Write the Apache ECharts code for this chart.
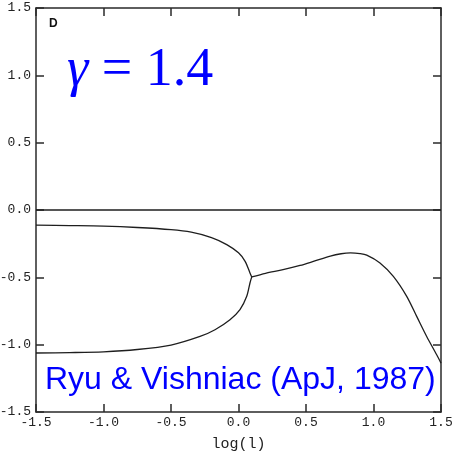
<!DOCTYPE html>
<html>
<head>
<meta charset="utf-8">
<script src="https://cdn.jsdelivr.net/npm/echarts@6/dist/echarts.min.js"></script>
<style>
  html, body { margin: 0; padding: 0; background: #fff; }
  #chart { width: 452px; height: 452px; }
</style>
</head>
<body>
<div id="chart"></div>
<script>
// Axis ticks (both axes share the same range)
const xTicks = [-1.5, -1.0, -0.5, 0.0, 0.5, 1.0, 1.5];
const yTicks = [-1.5, -1.0, -0.5, 0.0, 0.5, 1.0, 1.5];

// Neutral line
const zeroX = [-1.5, 1.5];
const zeroY = [0, 0];

// Upper branch (left of the junction)
const upperX = [-1.5, -1.25, -1.0, -0.75, -0.5, -0.35, -0.2, -0.087, 0.0, 0.049, 0.085, 0.098];
const upperY = [-0.113, -0.116, -0.12, -0.13, -0.146, -0.165, -0.205, -0.257, -0.318, -0.381, -0.467, -0.497];

// Lower branch (left of the junction)
const lowerX = [-1.5, -1.25, -1.0, -0.75, -0.5, -0.285, -0.174, -0.063, 0.011, 0.061, 0.085, 0.098];
const lowerY = [-1.062, -1.059, -1.053, -1.036, -1.003, -0.939, -0.889, -0.815, -0.74, -0.641, -0.542, -0.497];

// Single branch (right of the junction)
const rightX = [0.098, 0.2, 0.33, 0.456, 0.56, 0.68, 0.76, 0.83, 0.9, 0.95, 1.048, 1.147, 1.246, 1.32, 1.394, 1.468, 1.5];
const rightY = [-0.497, -0.47, -0.443, -0.412, -0.38, -0.342, -0.325, -0.319, -0.324, -0.335, -0.393, -0.493, -0.641, -0.79, -0.939, -1.075, -1.137];

const pairs = (xs, ys) => xs.map((x, i) => [x, ys[i]]);
const fmt = v => v.toFixed(1);

const monoFont = '"Liberation Mono", "DejaVu Sans Mono", monospace';
const axisColor = '#2a2a2a';

function axisCommon(ticks) {
  return {
    type: 'value',
    min: ticks[0],
    max: ticks[ticks.length - 1],
    interval: 0.5,
    splitLine: { show: false },
    axisLine: { show: true, onZero: false, lineStyle: { color: axisColor, width: 1.5 } },
    axisTick: { show: true, inside: true, length: 8, lineStyle: { color: axisColor, width: 1.5 } }
  };
}

const chart = echarts.init(document.getElementById('chart'), null, { renderer: 'canvas' });

const lineStyle = { color: '#1e1e1e', width: 1.3 };
function branch(data) {
  return {
    type: 'line',
    data: data,
    showSymbol: false,
    smooth: 0.3,
    lineStyle: lineStyle,
    silent: true,
    animation: false
  };
}

chart.setOption({
  animation: false,
  backgroundColor: '#ffffff',
  grid: { left: 36, right: 11, top: 8, bottom: 40, containLabel: false, outerBoundsMode: 'none' },
  xAxis: [
    Object.assign(axisCommon(xTicks), {
      position: 'bottom',
      axisLabel: { show: true, formatter: fmt, margin: 4, color: '#222', fontFamily: monoFont, fontSize: 13,
                   showMinLabel: true, showMaxLabel: true },
      name: 'log(l)',
      nameLocation: 'middle',
      nameGap: 25,
      nameTextStyle: { color: '#222', fontFamily: monoFont, fontSize: 15 }
    }),
    Object.assign(axisCommon(xTicks), {
      position: 'top',
      axisLabel: { show: false }
    })
  ],
  yAxis: [
    Object.assign(axisCommon(yTicks), {
      position: 'left',
      axisLabel: { show: true, formatter: fmt, margin: 5, color: '#222', fontFamily: monoFont, fontSize: 13,
                   showMinLabel: true, showMaxLabel: true }
    }),
    Object.assign(axisCommon(yTicks), {
      position: 'right',
      axisLabel: { show: false }
    })
  ],
  series: [
    Object.assign(branch(pairs(zeroX, zeroY)), { smooth: false }),
    branch(pairs(upperX, upperY)),
    branch(pairs(lowerX, lowerY)),
    branch(pairs(rightX, rightY))
  ],
  graphic: [
    {
      type: 'text',
      left: 49, top: 18,
      style: { text: 'D', font: 'bold 12px "Liberation Sans", Arial, sans-serif', fill: '#111' }
    },
    {
      type: 'text',
      left: 67, top: 44,
      style: {
        text: '{g|γ} {e|= 1.4}',
        rich: {
          g: { font: 'italic 54px "Liberation Serif", "Times New Roman", serif', fill: '#0000ff' },
          e: { font: '54px "Liberation Serif", "Times New Roman", serif', fill: '#0000ff' }
        },
        font: '54px "Liberation Serif", serif',
        fill: '#0000ff'
      }
    },
    {
      type: 'text',
      left: 45, top: 364,
      style: { text: 'Ryu & Vishniac (ApJ, 1987)', font: '32px "Liberation Sans", Arial, sans-serif', fill: '#0000ff' }
    }
  ]
});
</script>
</body>
</html>
